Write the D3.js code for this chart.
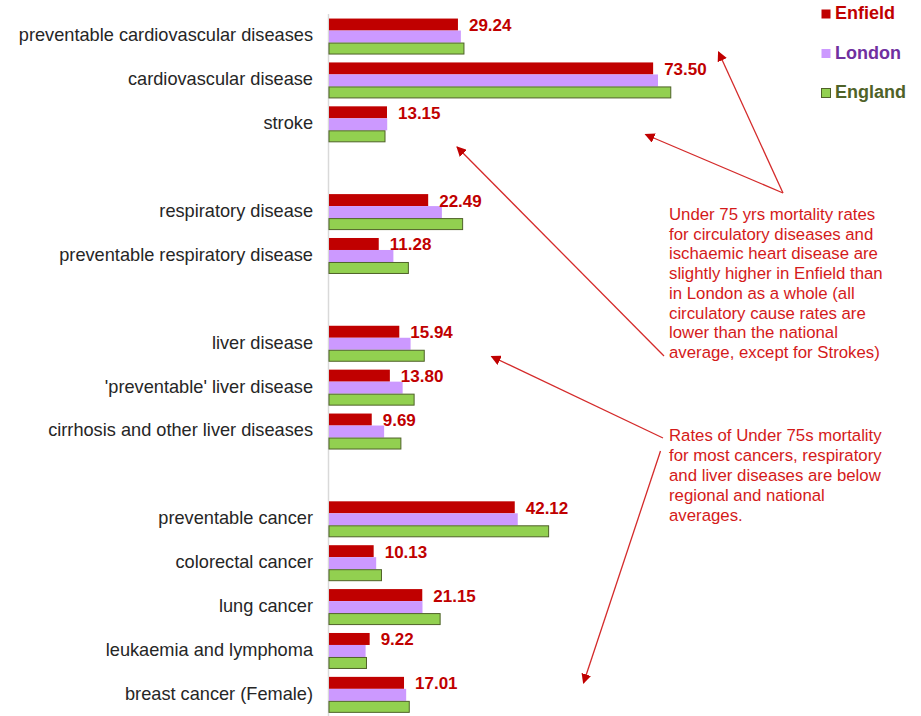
<!DOCTYPE html>
<html>
<head>
<meta charset="utf-8">
<script src="https://cdn.jsdelivr.net/npm/d3@7"></script>
<style>
  html, body { margin: 0; padding: 0; background: #ffffff; }
  svg { display: block; font-family: "Liberation Sans", Arial, sans-serif; }
</style>
</head>
<body>
<svg id="chart" width="921" height="716"></svg>
<script>
// ---- data ----
const categories = [
  "preventable cardiovascular diseases",
  "cardiovascular disease",
  "stroke",
  "",
  "respiratory disease",
  "preventable respiratory disease",
  "",
  "liver disease",
  "'preventable' liver disease",
  "cirrhosis and other liver diseases",
  "",
  "preventable cancer",
  "colorectal cancer",
  "lung cancer",
  "leukaemia and lymphoma",
  "breast cancer (Female)"
];
const seriesNames = ["Enfield", "London", "England"];
const enfield = [29.24, 73.50, 13.15, null, 22.49, 11.28, null, 15.94, 13.80, 9.69, null, 42.12, 10.13, 21.15, 9.22, 17.01];
const london  = [29.9, 74.6, 13.2, null, 25.6, 14.6, null, 18.5, 16.7, 12.5, null, 42.8, 10.7, 21.2, 8.3, 17.5];
const england = [30.6, 77.5, 12.7, null, 30.3, 18.0, null, 21.6, 19.3, 16.3, null, 49.8, 11.9, 25.2, 8.5, 18.2];
const note1 = [
  "Under 75 yrs mortality rates",
  "for circulatory diseases and",
  "ischaemic heart disease are",
  "slightly higher in Enfield than",
  "in London as a whole (all",
  "circulatory cause rates are",
  "lower than the national",
  "average, except for Strokes)"
];
const note2 = [
  "Rates of Under 75s mortality",
  "for most cancers, respiratory",
  "and liver diseases are below",
  "regional and national",
  "averages."
];

// ---- styles ----
const fills   = { Enfield: "#c00000", London: "#cc99ff", England: "#92d050" };
const strokes = { Enfield: "none", London: "none", England: "#4f6228" };
const legendText = { Enfield: "#c00000", London: "#7030a0", England: "#4f6228" };
const noteColor = "#d41a1a";

const svg = d3.select("#chart");
const seriesData = { Enfield: enfield, London: london, England: england };

const idx = categories.map((_, i) => i);
const y = d3.scaleBand().domain(idx).range([14.6, 716.8]).paddingInner(0.18).paddingOuter(0.09);
const ySub = d3.scaleBand().domain(seriesNames).range([0, y.bandwidth()]);
const x = d3.scaleLinear().domain([0, 80]).range([329, 681.8]);

// axis line
svg.append("line")
  .attr("x1", x(0) - 0.5).attr("x2", x(0) - 0.5)
  .attr("y1", 14).attr("y2", 716)
  .attr("stroke", "#d9d9d9").attr("stroke-width", 1.5);

// bars
const groups = svg.selectAll("g.grp")
  .data(idx.filter(i => enfield[i] != null))
  .join("g").attr("class", "grp")
  .attr("transform", i => `translate(0,${y(i)})`);

seriesNames.forEach(s => {
  groups.append("rect")
    .attr("x", x(0))
    .attr("y", ySub(s) + (s === "England" ? 0.5 : 0))
    .attr("width", i => x(seriesData[s][i]) - x(0))
    .attr("height", ySub.bandwidth() - (s === "England" ? 1 : 0))
    .attr("fill", fills[s])
    .attr("stroke", strokes[s])
    .attr("stroke-width", 1);
});

// value labels (Enfield)
groups.append("text")
  .attr("x", i => x(enfield[i]) + 11)
  .attr("y", ySub("Enfield") + ySub.bandwidth() + 0.5)
  .attr("fill", "#c00000")
  .attr("font-weight", "bold")
  .attr("font-size", "17px")
  .text(i => d3.format(".2f")(enfield[i]));

// category labels
svg.selectAll("text.cat")
  .data(idx.filter(i => categories[i] !== ""))
  .join("text").attr("class", "cat")
  .attr("x", 313)
  .attr("y", i => y(i) + y.bandwidth() / 2 - 1.5)
  .attr("dy", "0.35em")
  .attr("text-anchor", "end")
  .attr("font-size", "18.2px")
  .attr("fill", "#262626")
  .text(i => categories[i]);

// legend
const legendY = [19, 58.5, 98];
seriesNames.forEach((s, k) => {
  svg.append("rect")
    .attr("x", 821.5).attr("y", legendY[k] - 9.5)
    .attr("width", 9).attr("height", 9)
    .attr("fill", fills[s])
    .attr("stroke", strokes[s]).attr("stroke-width", 1);
  svg.append("text")
    .attr("x", 835).attr("y", legendY[k])
    .attr("font-size", "18px").attr("font-weight", "bold")
    .attr("fill", legendText[s])
    .text(s);
});

// annotations
function drawNote(lines, x0, y0, lh) {
  svg.append("g").selectAll("text")
    .data(lines).join("text")
    .attr("x", x0)
    .attr("y", (d, i) => y0 + i * lh)
    .attr("font-size", "16.8px")
    .attr("fill", noteColor)
    .text(d => d);
}
drawNote(note1, 669, 220, 19.7);
drawNote(note2, 669, 440.5, 20);

// arrows
const defs = svg.append("defs");
defs.append("marker")
  .attr("id", "ah")
  .attr("viewBox", "0 0 10 10")
  .attr("refX", 9).attr("refY", 5)
  .attr("markerWidth", 10).attr("markerHeight", 10)
  .attr("markerUnits", "userSpaceOnUse")
  .attr("orient", "auto")
  .append("path").attr("d", "M0,0 L10,5 L0,10 Z").attr("fill", "#c00000");

const arrows = [
  [783, 193, 718.5, 52],
  [783, 193, 645.5, 134.5],
  [664, 356, 457, 147],
  [663, 438, 491.5, 356.5],
  [660.5, 451, 583.5, 683]
];
svg.append("g").selectAll("line")
  .data(arrows).join("line")
  .attr("x1", d => d[0]).attr("y1", d => d[1])
  .attr("x2", d => d[2]).attr("y2", d => d[3])
  .attr("stroke", "#d42a2a").attr("stroke-width", 1.3)
  .attr("marker-end", "url(#ah)");
</script>
</body>
</html>
